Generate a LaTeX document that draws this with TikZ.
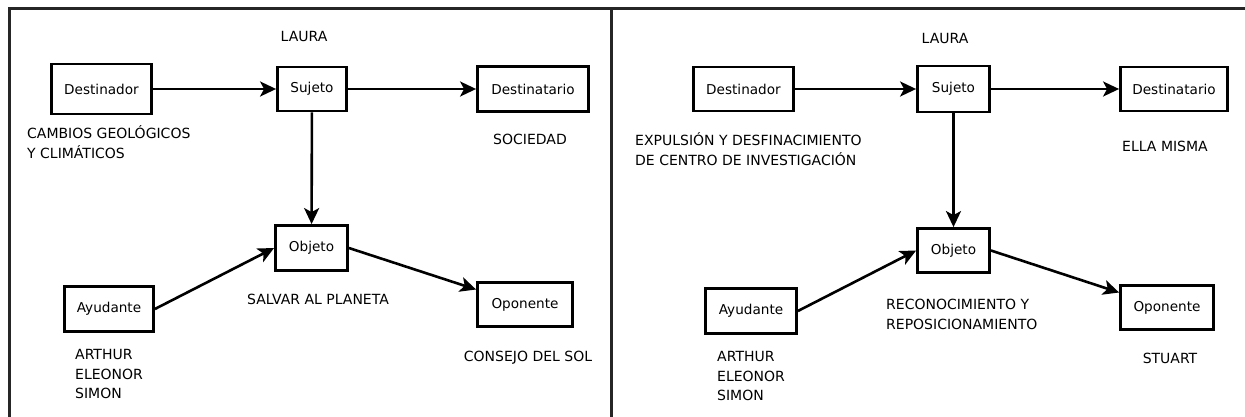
\documentclass[tikz,border=0pt]{standalone}
\usepackage{fontspec}
\setmainfont{DejaVu Sans}
\usetikzlibrary{arrows.meta}

\begin{document}
\begin{tikzpicture}[x=1pt,y=-1pt,
  box/.style={draw, line width=2.8pt, inner sep=0pt, font=\fontsize{13.6}{16}\selectfont},
  note/.style={inner sep=0pt, font=\fontsize{14}{19.7}\selectfont, align=left},
  link/.style={line width=2.6pt, -{Stealth[length=16pt,width=15pt,inset=4pt]}},
  frame/.style={line width=3pt, color=black!85}]
\useasboundingbox (0,0) rectangle (1245,417);

% outer frame and divider between the two panels
\coordinate (ftl) at (9,9);
\coordinate (ftr) at (1245,9);
\coordinate (fbl) at (9,417);
\coordinate (dtop) at (611,9);
\coordinate (dbot) at (611,417);
\draw[frame] (fbl) -- (ftl) -- (ftr);
\draw[frame] (dtop) -- (dbot);

% ---------- left panel ----------
\node[box, minimum width=100pt, minimum height=50pt] (dl) at (101.5,89) {Destinador};
\node[box, minimum width=69pt,  minimum height=44pt] (sl) at (312,89) {Sujeto};
\node[box, minimum width=111pt, minimum height=45pt] (tl) at (533,89) {Destinatario};
\node[box, minimum width=72pt,  minimum height=45pt] (ol) at (311.5,248) {Objeto};
\node[box, minimum width=89pt,  minimum height=45pt] (al) at (109,309) {Ayudante};
\node[box, minimum width=95pt,  minimum height=44pt] (pl) at (525,304.5) {Oponente};

\node[note] (laural) at (304,36) {LAURA};
\node[note, anchor=west] (cambios) at (27,142) {CAMBIOS GEOLÓGICOS\\Y CLIMÁTICOS};
\node[note] (sociedad) at (530,139) {SOCIEDAD};
\node[note] (salvar) at (318,299) {SALVAR AL PLANETA};
\node[note, anchor=west] (ayl) at (75,374) {ARTHUR\\ELEONOR\\SIMON};
\node[note] (consejo) at (528,358) {CONSEJO DEL SOL};

\draw[link] (dl) -- (sl);
\draw[link] (sl) -- (tl);
\draw[link] (sl) -- (ol);
\draw[link] (al.east) -- (ol.west);
\draw[link] (ol.east) -- ([yshift=15pt]pl.west);

% ---------- right panel ----------
\node[box, minimum width=100pt, minimum height=44pt] (dr) at (743.5,89) {Destinador};
\node[box, minimum width=72pt,  minimum height=46pt] (sr) at (953.5,89) {Sujeto};
\node[box, minimum width=107pt, minimum height=44pt] (tr) at (1174,89) {Destinatario};
\node[box, minimum width=72pt,  minimum height=44pt] (or) at (953.5,250.5) {Objeto};
\node[box, minimum width=91pt,  minimum height=45pt] (ar) at (751,311) {Ayudante};
\node[box, minimum width=93pt,  minimum height=44pt] (pr) at (1167,307.5) {Oponente};

\node[note] (laurar) at (945,38) {LAURA};
\node[note, anchor=west] (expulsion) at (635,149) {EXPULSIÓN Y DESFINACIMIENTO\\DE CENTRO DE INVESTIGACIÓN};
\node[note] (ellamisma) at (1165,146) {ELLA MISMA};
\node[note, anchor=west] (reconoc) at (886,314.5) {RECONOCIMIENTO Y\\REPOSICIONAMIENTO};
\node[note, anchor=west] (ayr) at (717,376) {ARTHUR\\ELEONOR\\SIMON};
\node[note] (stuart) at (1170,358) {STUART};

\draw[link] (dr) -- (sr);
\draw[link] (sr) -- (tr);
\draw[link] (sr) -- (or);
\draw[link] (ar.east) -- (or.west);
\draw[link] (or.east) -- ([yshift=15pt]pr.west);
\end{tikzpicture}
\end{document}
